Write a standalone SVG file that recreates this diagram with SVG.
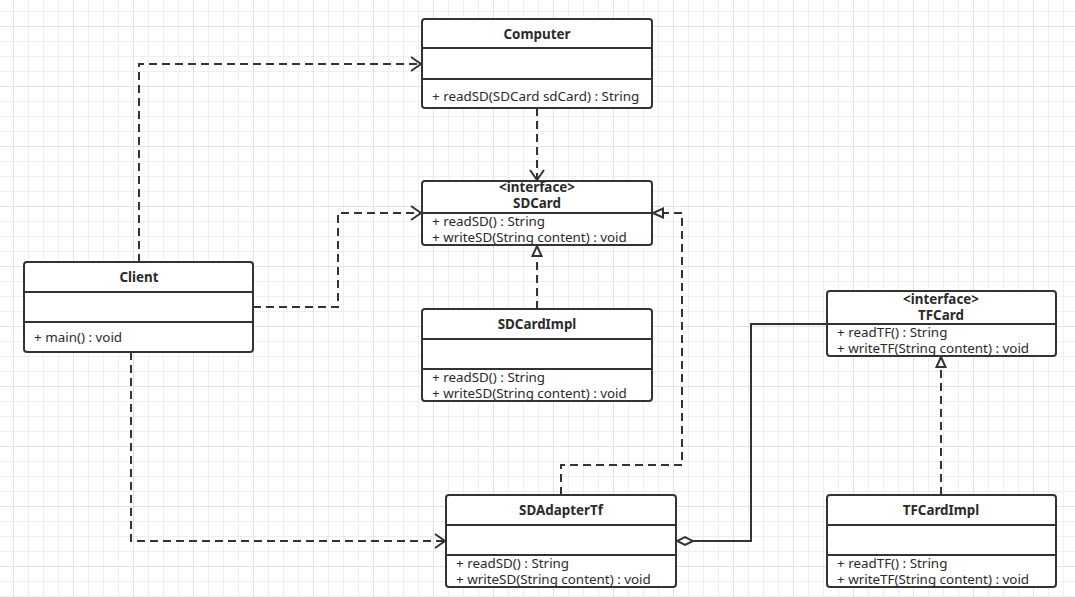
<svg xmlns="http://www.w3.org/2000/svg" width="1075" height="597" viewBox="0 0 1075 597">
<defs>
<pattern id="grid" patternUnits="userSpaceOnUse" x="13" y="26" width="60" height="60">
<path d="M15.5 0V60M30.5 0V60M45.5 0V60M0 15.5H60M0 30.5H60M0 45.5H60" stroke="#efefef" stroke-width="1" fill="none"/>
<path d="M0.5 0V60M0 0.5H60" stroke="#e2e2e2" stroke-width="1" fill="none"/>
</pattern>
<marker id="open" markerUnits="userSpaceOnUse" markerWidth="20" markerHeight="20" refX="12" refY="8" orient="auto" viewBox="0 0 20 20">
<path d="M2 1 L12 8 L2 15" fill="none" stroke="#333" stroke-width="2"/>
</marker>
<marker id="tri" markerUnits="userSpaceOnUse" markerWidth="16" markerHeight="14" refX="12" refY="7" orient="auto" viewBox="0 0 16 14">
<path d="M2 2.5 L12 7 L2 11.5 Z" fill="#fff" stroke="#333" stroke-width="2"/>
</marker>
<marker id="diamond" markerUnits="userSpaceOnUse" markerWidth="22" markerHeight="12" refX="18" refY="6" orient="auto" viewBox="0 0 22 12">
<path d="M2 6 L10 2 L18 6 L10 10 Z" fill="#fff" stroke="#333" stroke-width="2"/>
</marker>
</defs>
<style>
.box{fill:#fff;stroke:#333;stroke-width:2}
.div{stroke:#333;stroke-width:2}
.t{font-family:"Noto Sans","Open Sans","DejaVu Sans",sans-serif;font-size:13.4px;fill:#2a2a2a}
.b{font-weight:bold;text-anchor:middle;font-size:13.4px}
.c{fill:none;stroke:#333;stroke-width:2}
.d{stroke-dasharray:8 5}
</style>
<rect x="0" y="0" width="1075" height="597" fill="#fff"/>
<rect x="0" y="0" width="1075" height="597" fill="url(#grid)"/>

<g id="connectors">
<path class="c d" d="M139 262V64H421" marker-end="url(#open)"/>
<path class="c d" d="M537 108V180" marker-end="url(#open)"/>
<path class="c d" d="M253 307H338V213H421" marker-end="url(#open)"/>
<path class="c d" d="M537 309V246" marker-end="url(#tri)"/>
<path class="c d" d="M561 495V465H682V213H653" marker-end="url(#tri)"/>
<path class="c" d="M827 324H751V541H677" marker-end="url(#diamond)"/>
<path class="c d" d="M941 495V357" marker-end="url(#tri)"/>
<path class="c d" d="M131 352V541H445" marker-end="url(#open)"/>
</g>

<g id="Computer">
<rect class="box" x="422" y="19" width="230" height="89" rx="3"/>
<line class="div" x1="422" y1="48" x2="652" y2="48"/>
<line class="div" x1="422" y1="79" x2="652" y2="79"/>
<text class="t b" x="537" y="39">Computer</text>
<text class="t" x="432" y="101">+ readSD(SDCard sdCard) : String</text>
</g>

<g id="SDCard">
<rect class="box" x="422" y="181" width="230" height="64" rx="3"/>
<line class="div" x1="422" y1="213" x2="652" y2="213"/>
<text class="t b" x="537" y="192">&lt;interface&gt;</text>
<text class="t b" x="537" y="208">SDCard</text>
<text class="t" x="432" y="226">+ readSD() : String</text>
<text class="t" x="432" y="242">+ writeSD(String content) : void</text>
</g>

<g id="Client">
<rect class="box" x="24" y="262" width="229" height="90" rx="3"/>
<line class="div" x1="24" y1="292" x2="253" y2="292"/>
<line class="div" x1="24" y1="322" x2="253" y2="322"/>
<text class="t b" x="139" y="282">Client</text>
<text class="t" x="34" y="342">+ main() : void</text>
</g>

<g id="SDCardImpl">
<rect class="box" x="422" y="309" width="230" height="92" rx="3"/>
<line class="div" x1="422" y1="339" x2="652" y2="339"/>
<line class="div" x1="422" y1="369" x2="652" y2="369"/>
<text class="t b" x="537" y="329">SDCardImpl</text>
<text class="t" x="432" y="382">+ readSD() : String</text>
<text class="t" x="432" y="398">+ writeSD(String content) : void</text>
</g>

<g id="TFCard">
<rect class="box" x="827" y="291" width="229" height="65" rx="3"/>
<line class="div" x1="827" y1="324" x2="1056" y2="324"/>
<text class="t b" x="941" y="304">&lt;interface&gt;</text>
<text class="t b" x="941" y="320">TFCard</text>
<text class="t" x="837" y="337">+ readTF() : String</text>
<text class="t" x="837" y="353">+ writeTF(String content) : void</text>
</g>

<g id="SDAdapterTf">
<rect class="box" x="446" y="495" width="230" height="92" rx="3"/>
<line class="div" x1="446" y1="525" x2="676" y2="525"/>
<line class="div" x1="446" y1="555" x2="676" y2="555"/>
<text class="t b" x="561" y="515">SDAdapterTf</text>
<text class="t" x="456" y="568">+ readSD() : String</text>
<text class="t" x="456" y="584">+ writeSD(String content) : void</text>
</g>

<g id="TFCardImpl">
<rect class="box" x="827" y="495" width="229" height="92" rx="3"/>
<line class="div" x1="827" y1="525" x2="1056" y2="525"/>
<line class="div" x1="827" y1="555" x2="1056" y2="555"/>
<text class="t b" x="941" y="515">TFCardImpl</text>
<text class="t" x="837" y="568">+ readTF() : String</text>
<text class="t" x="837" y="584">+ writeTF(String content) : void</text>
</g>
</svg>
